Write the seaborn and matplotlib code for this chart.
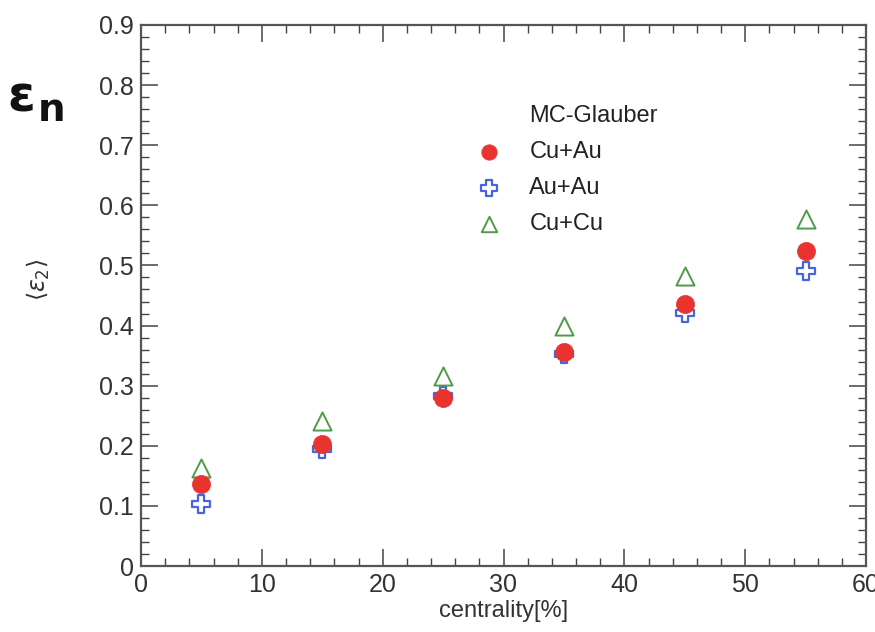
import matplotlib
matplotlib.use("Agg")
import matplotlib.pyplot as plt
from matplotlib.ticker import MultipleLocator
from matplotlib.lines import Line2D
import seaborn as sns
import pandas as pd

centrality = [5, 15, 25, 35, 45, 55]
cu_au = [0.136, 0.203, 0.280, 0.356, 0.436, 0.524]
au_au = [0.103, 0.195, 0.283, 0.353, 0.421, 0.491]
cu_cu = [0.163, 0.241, 0.316, 0.399, 0.483, 0.577]
x_ticks = [0, 10, 20, 30, 40, 50, 60]
y_ticks = [0, 0.1, 0.2, 0.3, 0.4, 0.5, 0.6, 0.7, 0.8, 0.9]

sns.set_theme(style="ticks")
plt.rcParams['font.family'] = ['Liberation Sans', 'DejaVu Sans']

fig = plt.figure(figsize=(8.75, 6.32), dpi=100)
ax = fig.add_axes([141/875, 1 - 566/632, 725/875, 541/632])

df_cuau = pd.DataFrame({"x": centrality, "y": cu_au})
df_auau = pd.DataFrame({"x": centrality, "y": au_au})
df_cucu = pd.DataFrame({"x": centrality, "y": cu_cu})

sns.scatterplot(data=df_auau, x="x", y="y", ax=ax, marker="P", s=170,
                facecolor="white", edgecolor="#4a63e0", linewidth=1.6, label="Au+Au", zorder=3)
sns.scatterplot(data=df_cuau, x="x", y="y", ax=ax, marker="o", s=170,
                color="#e8332e", edgecolor="#e8332e", linewidth=0.5, label="Cu+Au", zorder=4)
sns.scatterplot(data=df_cucu, x="x", y="y", ax=ax, marker="^", s=170,
                facecolor="white", edgecolor="#4f9a4a", linewidth=1.4, label="Cu+Cu", zorder=3)

ax.set_xlim(0, 60)
ax.set_ylim(0, 0.9)
ax.set_xticks(x_ticks)
ax.set_yticks(y_ticks)
ax.set_xticklabels([str(t) for t in x_ticks])
ax.set_yticklabels(["0" if t == 0 else f"{t:.1f}" for t in y_ticks])
ax.xaxis.set_minor_locator(MultipleLocator(2))
ax.yaxis.set_minor_locator(MultipleLocator(0.02))
ax.tick_params(which="both", direction="in", top=True, right=True, color="#444444")
ax.tick_params(which="major", length=12, width=1.1, labelsize=18, labelcolor="#333333", pad=5)
ax.tick_params(which="minor", length=6, width=1.0)
for sp in ax.spines.values():
    sp.set_color("#555555")
    sp.set_linewidth(1.6)

ax.set_xlabel("centrality[%]", fontsize=17, color="#333333")
ax.xaxis.set_label_coords(0.5, -0.062)
ax.set_ylabel(r"$\langle\varepsilon_2\rangle$", fontsize=17, color="#333333", rotation=90)
ax.yaxis.set_label_coords(-0.123, 0.529)

handles, labels = ax.get_legend_handles_labels()
order = [labels.index("Cu+Au"), labels.index("Au+Au"), labels.index("Cu+Cu")]
blank = Line2D([], [], linestyle="none", marker=None)
leg = ax.legend([blank] + [handles[i] for i in order], ["MC-Glauber"] + [labels[i] for i in order],
                loc="upper left", bbox_to_anchor=(0.425, 0.892),
                frameon=False, fontsize=17, handletextpad=0.9, handlelength=1.6,
                labelspacing=0.6, markerscale=0.85)
for t in leg.get_texts():
    t.set_color("#222222")

fig.text(7/875, 1 - 97/632, "ε", fontsize=36, fontweight="bold", va="center", ha="left",
         family=["DejaVu Sans"], color="#111111")
fig.text(38/875, 1 - 110/632, "n", fontsize=28, fontweight="bold", va="center", ha="left",
         family=["DejaVu Sans"], color="#111111")

fig.savefig("out.png", dpi=100)
